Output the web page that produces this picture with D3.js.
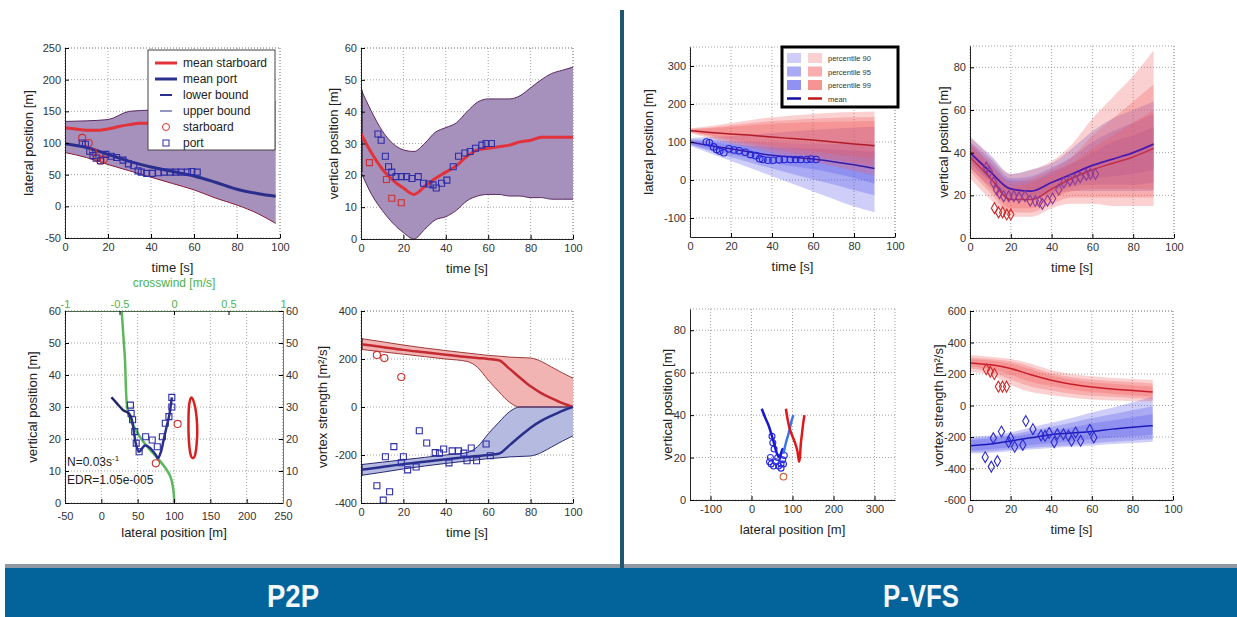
<!DOCTYPE html>
<html>
<head>
<meta charset="utf-8">
<script src="https://cdn.jsdelivr.net/npm/d3@7"></script>
<style>
  body { margin: 0; background: #fff; }
  svg text { font-family: "Liberation Sans", Arial, sans-serif; }
</style>
</head>
<body>
<script>
// ---------- P2P lateral position vs time
const p2pLatT = [0, 10, 20, 30, 40, 50, 60, 70, 80, 90, 98];
const p2pLatUpper = [134, 135, 137, 150, 152, 154, 156, 158, 160, 162, 165];
const p2pLatLower = [85, 77, 66, 56, 46, 36, 26, 13, 2, -12, -27];
const p2pLatPortMean = [99, 93, 82, 71, 62, 55, 48, 38, 27, 20, 16];
const p2pLatStarT = [0, 5, 10, 15, 20, 25, 30, 35, 40, 45, 50];
const p2pLatStarMean = [124, 122, 120, 120, 122, 126, 129, 131, 131, 130, 129];

// ---------- P2P vertical position vs time
const p2pVertT = [0, 5, 10, 15, 20, 25, 30, 35, 40, 45, 50, 55, 60, 65, 70, 75, 80, 85, 90, 95, 100];
const p2pVertUpper = [47, 40, 34, 30, 28, 27.5, 30, 33.5, 35, 36.5, 40, 43, 44, 44, 44, 45, 47.5, 50, 52, 53, 54];
const p2pVertLower = [21, 14, 9, 5, 2, 0, 3, 6, 7, 9, 12, 13.5, 14, 14, 13.5, 13.5, 13, 13, 12.5, 12.5, 12.5];
const p2pVertMean = [33, 27, 22, 18.5, 16, 14, 16.5, 19, 21, 23, 26, 28, 28.5, 29, 29.5, 30.5, 31, 32, 32, 32, 32];

// ---------- P2P vortex strength vs time
const p2pGamT = [0, 10, 20, 30, 40, 50, 55, 60, 65, 70, 75, 80, 85, 90, 95, 100];
const p2pGamStarUpper = [285, 272, 258, 246, 235, 225, 220, 215, 212, 208, 206, 204, 190, 166, 142, 120];
const p2pGamStarLower = [240, 230, 220, 210, 200, 190, 165, 112, 64, 20, 0, 0, 0, 0, 0, 0];
const p2pGamStarMean = [262, 250, 238, 228, 218, 208, 204, 200, 195, 160, 122, 86, 58, 36, 16, 0];
const p2pGamPortUpper = [-240, -230, -220, -210, -200, -190, -165, -112, -64, -20, 0, 0, 0, 0, 0, 0];
const p2pGamPortLower = [-285, -272, -258, -246, -235, -225, -220, -215, -212, -208, -206, -204, -190, -166, -142, -120];
const p2pGamPortMean = [-262, -250, -238, -228, -218, -208, -204, -200, -195, -160, -122, -86, -58, -36, -16, 0];

// ---------- observations
const portT = [8, 9.5, 11.5, 13, 14.5, 16.5, 19, 21.5, 24, 27, 29.5, 32, 34, 35.5, 38, 40.5, 43.5, 46, 49, 51.5, 54, 57, 59, 61.5];
const portLat = [100, 98, 87, 80, 76, 72, 82, 79, 77, 73, 67, 64, 56, 54, 52, 52, 53, 54, 54, 54, 54, 54, 55, 54];
const portVert = [33, 31, 26, 22.7, 21, 19.6, 19.6, 19.6, 19, 19.6, 17.5, 17.3, 17, 16, 17.5, 18.5, 22.7, 26, 27, 27.5, 28.5, 29.5, 30, 30];
const starLatT = [8, 11, 13, 15, 16.5, 18];
const starLat = [108, 100, 86, 77, 72, 74];
const starVertT = [4, 12, 14.5, 19];
const starVert = [24, 18.7, 12.8, 11.4];
const portGamT = [7.5, 10.5, 11.5, 13.5, 15.5, 19, 20, 22, 26, 27.5, 31, 35, 37, 39, 41.5, 43, 46, 48.5, 50, 52, 54.5, 59, 61];
const portGam = [-328, -388, -207, -353, -165, -232, -207, -262, -250, -99, -150, -190, -192, -175, -233, -183, -183, -192, -224, -171, -224, -154, -203];
const starGamT = [7.5, 11, 19];
const starGam = [217, 204, 125];

// ---------- P2P trajectory (lateral vs vertical) + crosswind
const windHeight = [60, 55, 50, 45, 40, 35, 30, 27, 24, 20, 17, 14, 11, 8, 5, 2, 0];
const windSpeed = [-0.48, -0.47, -0.46, -0.45, -0.445, -0.44, -0.43, -0.41, -0.37, -0.3, -0.23, -0.15, -0.08, -0.03, -0.01, 0, 0];
const trajPortLat = [14, 22, 30, 38, 42, 45, 48, 52, 60, 68, 75, 78, 82, 86, 90, 94, 97];
const trajPortVert = [33, 31, 29, 28, 26, 22, 18, 16, 18, 17, 15, 14, 16, 20, 24, 28, 33];
const trajObsLat = [40, 41, 43, 46, 48, 52, 61, 70, 77, 84, 88, 93, 97, 97];
const trajObsVert = [30.6, 28, 26, 22.3, 18.7, 16, 20.7, 19.7, 17.6, 20.7, 24.9, 27, 30, 33];
const trajStarObsLat = [75, 105];
const trajStarObsVert = [12.4, 24.7];
const trajStarLat = [124, 128, 131, 132, 131, 129, 126, 123, 121, 120, 120, 121];
const trajStarVert = [33, 31, 27, 22, 18, 15, 14, 15, 18, 22, 27, 31];

// ---------- P-VFS bands (t = 0..90), pairs are [low, high]
const vfsT = [0, 10, 20, 30, 40, 50, 60, 70, 80, 90];
const vfsLatStarMean = [130, 125, 121, 118, 113, 109, 105, 100, 95, 90];
const vfsLatStarOuter = [[124, 136], [110, 142], [96, 150], [84, 158], [72, 165], [60, 170], [48, 174], [36, 177], [24, 179], [12, 180]];
const vfsLatStarMid = [[126, 134], [114, 138], [102, 144], [92, 150], [82, 155], [72, 158], [63, 161], [54, 163], [45, 165], [36, 166]];
const vfsLatStarInner = [[127, 133], [117, 136], [107, 140], [98, 144], [90, 148], [82, 150], [75, 152], [68, 153], [62, 154], [56, 155]];
const vfsLatPortMean = [100, 90, 82, 73, 65, 60, 55, 48, 40, 30];
const vfsLatPortOuter = [[90, 110], [70, 114], [50, 116], [30, 120], [10, 124], [-10, 128], [-30, 132], [-50, 135], [-70, 138], [-85, 140]];
const vfsLatPortMid = [[93, 107], [76, 105], [60, 102], [45, 100], [30, 98], [16, 97], [2, 96], [-12, 95], [-27, 95], [-40, 95]];
const vfsLatPortInner = [[95, 105], [80, 100], [68, 95], [56, 90], [45, 86], [36, 84], [28, 82], [18, 80], [5, 77], [-10, 75]];

const vfsVertStarMean = [38, 28, 18, 18, 23, 28, 32, 35, 38, 42];
const vfsVertStarOuter = [[28, 48], [18, 38], [10, 30], [10, 32], [14, 36], [16, 44], [16, 56], [15, 66], [15, 76], [15, 88]];
const vfsVertStarMid = [[31, 45], [21, 35], [12, 26], [12, 28], [16, 32], [19, 38], [19, 48], [19, 56], [19, 64], [19, 72]];
const vfsVertStarInner = [[33, 43], [23, 33], [14, 24], [14, 26], [18, 30], [22, 35], [23, 42], [23, 48], [23, 54], [23, 60]];
const vfsVertPortMean = [40, 31, 23, 22, 26, 30, 34, 37, 40, 44];
const vfsVertPortOuter = [[33, 47], [24, 39], [18, 30], [18, 32], [20, 35], [22, 42], [22, 50], [22, 56], [22, 60], [22, 64]];
const vfsVertPortMid = [[35, 45], [26, 37], [19, 28], [19, 29], [21, 33], [24, 38], [25, 45], [25, 50], [25, 54], [26, 58]];
const vfsVertPortInner = [[36, 44], [27, 35], [20, 27], [20, 27], [22, 31], [26, 35], [28, 40], [29, 45], [30, 48], [32, 52]];

const vfsGamStarMean = [270, 258, 235, 195, 160, 135, 118, 105, 95, 85];
const vfsGamStarOuter = [[215, 320], [195, 310], [130, 295], [85, 265], [65, 225], [50, 200], [38, 185], [32, 175], [28, 168], [25, 162]];
const vfsGamStarMid = [[235, 305], [215, 295], [165, 280], [120, 245], [95, 205], [75, 180], [62, 165], [55, 155], [48, 148], [40, 140]];
const vfsGamStarInner = [[245, 295], [232, 285], [195, 265], [150, 230], [125, 190], [100, 165], [85, 148], [75, 138], [65, 128], [55, 120]];
const vfsGamPortMean = [-255, -245, -225, -205, -185, -175, -165, -150, -138, -128];
const vfsGamPortOuter = [[-305, -198], [-300, -190], [-290, -170], [-280, -140], [-270, -110], [-262, -80], [-255, -45], [-245, -15], [-238, 20], [-230, 55]];
const vfsGamPortMid = [[-295, -210], [-290, -200], [-280, -185], [-268, -160], [-258, -135], [-250, -110], [-240, -80], [-230, -55], [-222, -30], [-215, -5]];
const vfsGamPortInner = [[-285, -220], [-278, -210], [-265, -198], [-250, -178], [-238, -160], [-228, -140], [-215, -115], [-205, -95], [-195, -75], [-185, -55]];

const vfsStarVertT = [12, 14, 16, 18, 20];
const vfsStarVert = [14, 12, 12, 11, 11];
const vfsStarGamT = [8, 10, 12, 14, 16, 18];
const vfsStarGam = [230, 215, 200, 120, 120, 120];

// ---------- P-VFS trajectory
const vfsTrajPortLat = [25, 33, 42, 50, 56, 60, 64, 68, 72, 76, 80];
const vfsTrajPortVert = [43, 39, 35, 30, 26, 23, 21, 20, 22, 24, 22];
const vfsTrajObsLat = [50, 52, 55, 46, 48, 54, 60, 64, 72, 76, 80, 78, 72, 66, 44];
const vfsTrajObsVert = [30, 27, 24, 20, 17, 16, 18, 20, 17, 19, 21, 17, 15, 16, 18];
const vfsTrajPort2Lat = [78, 84, 90, 96, 102];
const vfsTrajPort2Vert = [22, 27, 31, 36, 40];
const vfsTrajStarLat = [84, 88, 94, 100, 106, 112, 116, 118, 120, 123, 126, 129];
const vfsTrajStarVert = [43, 38, 33, 30, 27, 23, 18, 20, 26, 31, 36, 40];

// ---------- labels
const legendP2P = ["mean starboard", "mean port", "lower bound", "upper bound", "starboard", "port"];
const legendVFS = ["percentile 90", "percentile 95", "percentile 99", "mean"];
const timeTicks = [0, 20, 40, 60, 80, 100];

const svg = d3.select("body").append("svg").attr("width", 1237).attr("height", 617);
const defs = svg.append("defs");
let clipN = 0;
const fmt = d => String(d);
const zip = (a, b) => a.map((v, i) => [v, b[i]]);

function makeAxes(b, xDom, yDom, xTicks, yTicks, xLabel, yLabel, yLabX, xPad) {
  const x = d3.scaleLinear().domain(xDom).range([b.x, b.x + b.w]);
  const y = d3.scaleLinear().domain(yDom).range([b.y + b.h, b.y]);
  const g = svg.append("g");
  const grid = g.append("g").attr("stroke", "#8c8c8c").attr("stroke-width", 0.8).attr("stroke-dasharray", "1,2");
  grid.selectAll(null).data(xTicks.concat([xDom[1]])).enter().append("line")
    .attr("x1", d => x(d)).attr("x2", d => x(d)).attr("y1", b.y).attr("y2", b.y + b.h);
  grid.selectAll(null).data(yTicks.concat([yDom[1]])).enter().append("line")
    .attr("y1", d => y(d)).attr("y2", d => y(d)).attr("x1", b.x).attr("x2", b.x + b.w);
  const id = "clip" + (clipN++);
  defs.append("clipPath").attr("id", id).append("rect")
    .attr("x", b.x).attr("y", b.y).attr("width", b.w).attr("height", b.h);
  const plot = g.append("g").attr("clip-path", `url(#${id})`);
  const top = g.append("g");
  top.append("g").attr("transform", `translate(0,${b.y + b.h})`)
    .call(d3.axisBottom(x).tickValues(xTicks).tickFormat(fmt).tickSizeInner(-4).tickSizeOuter(0).tickPadding(xPad || 5));
  top.append("g").attr("transform", `translate(${b.x},0)`)
    .call(d3.axisLeft(y).tickValues(yTicks).tickFormat(fmt).tickSizeInner(-4).tickSizeOuter(0).tickPadding(4));
  top.selectAll(".tick text").attr("font-size", 11).attr("fill", "#333").attr("font-family", "Liberation Sans, Arial, sans-serif");
  top.selectAll(".domain").attr("stroke", "#222");
  top.append("text").attr("x", b.x + b.w / 2).attr("y", b.y + b.h + 34)
    .attr("text-anchor", "middle").attr("font-size", 13).attr("fill", "#222").text(xLabel);
  top.append("text").attr("transform", `translate(${yLabX + 5},${b.y + b.h / 2}) rotate(-90)`)
    .attr("text-anchor", "middle").attr("font-size", 13).attr("fill", "#222").text(yLabel);
  return { x, y, plot, top, b };
}

function drawLine(ax, pts, color, width, curve) {
  ax.plot.append("path").datum(pts).attr("fill", "none").attr("stroke", color).attr("stroke-width", width)
    .attr("stroke-linejoin", "round")
    .attr("d", d3.line().x(d => ax.x(d[0])).y(d => ax.y(d[1])).curve(curve || d3.curveMonotoneX));
}
function drawBand(ax, xs, pairs, color, opacity) {
  ax.plot.append("path").datum(xs.map((v, i) => [v, pairs[i][0], pairs[i][1]]))
    .attr("fill", color).attr("fill-opacity", opacity)
    .attr("d", d3.area().x(d => ax.x(d[0])).y0(d => ax.y(d[1])).y1(d => ax.y(d[2])).curve(d3.curveMonotoneX));
}
function drawMarks(ax, pts, shape, color, size) {
  ax.plot.selectAll(null).data(pts).enter().append("path")
    .attr("transform", d => `translate(${ax.x(d[0])},${ax.y(d[1])})`)
    .attr("d", d3.symbol().type(shape).size(size))
    .attr("fill", "none").attr("stroke", color).attr("stroke-width", 1.1);
}

const purple = "#a690bc", red = "#e2323a", navy = "#2b2f8c", sqBlue = "#2d2da8";

// ================= P2P panel 1: lateral position
const p1 = makeAxes({ x: 65, y: 48, w: 215, h: 190 }, [0, 100], [-50, 250], timeTicks,
  [-50, 0, 50, 100, 150, 200, 250], "time [s]", "lateral position [m]", 28);
drawBand(p1, p2pLatT, zip(p2pLatLower, p2pLatUpper), purple, 1);
drawLine(p1, zip(p2pLatT, p2pLatUpper), "#5a2a60", 1);
drawLine(p1, zip(p2pLatT, p2pLatLower), "#8a1a3a", 1);
drawLine(p1, zip(p2pLatStarT, p2pLatStarMean), red, 3);
drawLine(p1, zip(p2pLatT, p2pLatPortMean), navy, 3);
drawMarks(p1, zip(starLatT, starLat), d3.symbolCircle, "#d03030", 40);
drawMarks(p1, zip(portT, portLat), d3.symbolSquare, sqBlue, 36);
{
  const lg = p1.top.append("g").attr("transform", "translate(148,50)");
  lg.append("rect").attr("width", 127).attr("height", 100).attr("fill", "white").attr("stroke", "#444");
  const rows = lg.selectAll(null).data(legendP2P).enter().append("g")
    .attr("transform", (d, i) => `translate(0,${13 + i * 16})`);
  rows.append("text").attr("x", 35).attr("y", 4).attr("font-size", 12).attr("fill", "#222").text(d => d);
  rows.each(function (d, i) {
    const r = d3.select(this);
    if (i === 0) r.append("line").attr("x1", 7).attr("x2", 29).attr("stroke", red).attr("stroke-width", 3);
    if (i === 1) r.append("line").attr("x1", 7).attr("x2", 29).attr("stroke", navy).attr("stroke-width", 3);
    if (i === 2) r.append("line").attr("x1", 12).attr("x2", 24).attr("stroke", navy).attr("stroke-width", 2);
    if (i === 3) r.append("line").attr("x1", 12).attr("x2", 24).attr("stroke", navy).attr("stroke-width", 1);
    if (i === 4) r.append("circle").attr("cx", 18).attr("r", 3.5).attr("fill", "none").attr("stroke", "#d03030");
    if (i === 5) r.append("rect").attr("x", 15).attr("y", -3).attr("width", 6).attr("height", 6).attr("fill", "none").attr("stroke", sqBlue);
  });
}

// ================= P2P panel 2: vertical position
const p2 = makeAxes({ x: 361, y: 48, w: 212, h: 191 }, [0, 100], [0, 60], timeTicks,
  [0, 10, 20, 30, 40, 50, 60], "time [s]", "vertical position [m]", 333);
drawBand(p2, p2pVertT, zip(p2pVertLower, p2pVertUpper), purple, 1);
drawLine(p2, zip(p2pVertT, p2pVertUpper), "#5a2a60", 1);
drawLine(p2, zip(p2pVertT, p2pVertLower), "#5a2a60", 1);
drawLine(p2, [[0, p2pVertLower[0]], [0, p2pVertUpper[0]]], "#000", 3, d3.curveLinear);
drawLine(p2, zip(p2pVertT, p2pVertMean), red, 3);
drawMarks(p2, zip(starVertT, starVert), d3.symbolSquare, "#d03030", 36);
drawMarks(p2, zip(portT, portVert), d3.symbolSquare, sqBlue, 36);

// ================= P2P panel 3: trajectory + crosswind
const p3 = makeAxes({ x: 65, y: 311, w: 218, h: 192 }, [-50, 250], [0, 60], [-50, 0, 50, 100, 150, 200, 250],
  [0, 10, 20, 30, 40, 50, 60], "lateral position [m]", "vertical position  [m]", 32, 9);
{
  const b = p3.b;
  const cw = d3.scaleLinear().domain([-1, 1]).range([b.x, b.x + b.w]);
  const ta = p3.top.append("g").attr("transform", `translate(0,${b.y})`)
    .call(d3.axisTop(cw).tickValues([-1, -0.5, 0, 0.5, 1]).tickFormat(fmt).tickSizeInner(-4).tickSizeOuter(0).tickPadding(3));
  ta.selectAll("text").attr("font-size", 11).attr("fill", "#4cb34c").attr("font-family", "Liberation Sans, Arial, sans-serif");
  ta.select(".domain").attr("stroke", "#4a6a4a");
  const ra = p3.top.append("g").attr("transform", `translate(${b.x + b.w},0)`)
    .call(d3.axisRight(p3.y).tickValues([0, 10, 20, 30, 40, 50, 60]).tickFormat(fmt).tickSizeInner(-4).tickSizeOuter(0).tickPadding(3));
  ra.selectAll("text").attr("font-size", 11).attr("fill", "#333").attr("font-family", "Liberation Sans, Arial, sans-serif");
  ra.select(".domain").attr("stroke", "#777");
  p3.top.append("text").attr("x", cw(0)).attr("y", b.y - 24).attr("text-anchor", "middle")
    .attr("font-size", 12).attr("fill", "#4cb34c").text("crosswind [m/s]");
  p3.plot.append("path").datum(zip(windSpeed, windHeight)).attr("fill", "none").attr("stroke", "#5cb85c").attr("stroke-width", 2.5)
    .attr("d", d3.line().x(d => cw(d[0])).y(d => p3.y(d[1])).curve(d3.curveCatmullRom));
  drawLine(p3, zip(trajStarLat, trajStarVert), "#d82020", 2.5, d3.curveCardinalClosed);
  drawMarks(p3, zip(trajObsLat, trajObsVert), d3.symbolSquare, sqBlue, 36);
  drawLine(p3, zip(trajPortLat, trajPortVert), navy, 2.5, d3.curveCatmullRom);
  drawLine(p3, zip(trajPortLat.slice(0, 5), trajPortVert.slice(0, 5)), "#222", 1, d3.curveCatmullRom);
  drawMarks(p3, zip(trajStarObsLat, trajStarObsVert), d3.symbolCircle, "#d03030", 40);
  const t1 = p3.top.append("text").attr("x", b.x + 2).attr("y", 466).attr("font-size", 12).attr("fill", "#222").text("N=0.03s");
  t1.append("tspan").attr("dy", -5).attr("font-size", 8).text("-1");
  p3.top.append("text").attr("x", b.x + 2).attr("y", 484).attr("font-size", 12).attr("fill", "#222").text("EDR=1.05e-005");
}

// ================= P2P panel 4: vortex strength
const p4 = makeAxes({ x: 361, y: 311, w: 212, h: 192 }, [0, 100], [-400, 400], timeTicks,
  [-400, -200, 0, 200, 400], "time [s]", "vortex strength [m²/s]", 322);
drawBand(p4, p2pGamT, zip(p2pGamStarLower, p2pGamStarUpper), "#f2b3b3", 1);
drawBand(p4, p2pGamT, zip(p2pGamPortLower, p2pGamPortUpper), "#b4bae0", 1);
drawLine(p4, zip(p2pGamT, p2pGamStarUpper), "#a03a3a", 1);
drawLine(p4, zip(p2pGamT, p2pGamStarLower), "#a03a3a", 1);
drawLine(p4, zip(p2pGamT, p2pGamPortUpper), "#2a2a70", 1);
drawLine(p4, zip(p2pGamT, p2pGamPortLower), "#2a2a70", 1);
drawLine(p4, [[0, p2pGamStarLower[0]], [0, p2pGamStarUpper[0]]], "#000", 3, d3.curveLinear);
drawLine(p4, [[0, p2pGamPortLower[0]], [0, p2pGamPortUpper[0]]], "#000", 3, d3.curveLinear);
drawLine(p4, zip(p2pGamT, p2pGamStarMean), "#c42a32", 2.5);
drawLine(p4, zip(p2pGamT, p2pGamPortMean), navy, 2.5);
drawMarks(p4, zip(starGamT, starGam), d3.symbolCircle, "#d03030", 40);
drawMarks(p4, zip(portGamT, portGam), d3.symbolSquare, sqBlue, 36);

// ================= P-VFS
const vBlue = "rgb(80,80,235)", vRed = "rgb(240,85,85)", bandOp = 0.28;
function vfsBands(ax, portBands, starBands) {
  portBands.forEach(p => drawBand(ax, vfsT, p, vBlue, bandOp));
  starBands.forEach(p => drawBand(ax, vfsT, p, vRed, bandOp));
}

const p5 = makeAxes({ x: 690, y: 47, w: 205, h: 190 }, [0, 100], [-150, 350], timeTicks,
  [-100, 0, 100, 200, 300], "time [s]", "lateral position [m]", 648);
vfsBands(p5, [vfsLatPortOuter, vfsLatPortMid, vfsLatPortInner], [vfsLatStarOuter, vfsLatStarMid, vfsLatStarInner]);
drawLine(p5, zip(vfsT, vfsLatStarMean), "#b01c2a", 1.5);
drawLine(p5, zip(vfsT, vfsLatPortMean), "#3a1aa0", 1.5);
drawMarks(p5, zip(portT, portLat), d3.symbolCircle, "#2424d8", 34);
{
  const lg = p5.top.append("g").attr("transform", "translate(782,47)");
  lg.append("rect").attr("width", 116).attr("height", 60).attr("fill", "white").attr("stroke", "#000").attr("stroke-width", 3);
  const ops = [0.28, 0.48, 0.63];
  const rows = lg.selectAll(null).data(legendVFS).enter().append("g")
    .attr("transform", (d, i) => `translate(0,${11 + i * 13.5})`);
  rows.append("text").attr("x", 46).attr("y", 3).attr("font-size", 7.5).attr("fill", "#333").text(d => d);
  rows.each(function (d, i) {
    const r = d3.select(this);
    if (i < 3) {
      r.append("rect").attr("x", 5).attr("y", -5).attr("width", 14).attr("height", 10).attr("fill", vBlue).attr("fill-opacity", ops[i]);
      r.append("rect").attr("x", 26).attr("y", -5).attr("width", 14).attr("height", 10).attr("fill", vRed).attr("fill-opacity", ops[i]);
    } else {
      r.append("line").attr("x1", 5).attr("x2", 19).attr("stroke", "#1010a0").attr("stroke-width", 2.5);
      r.append("line").attr("x1", 26).attr("x2", 40).attr("stroke", "#c01818").attr("stroke-width", 2.5);
    }
  });
}

const p6 = makeAxes({ x: 970, y: 46, w: 204, h: 192 }, [0, 100], [0, 90], timeTicks,
  [0, 20, 40, 60, 80], "time [s]", "vertical position [m]", 943);
vfsBands(p6, [vfsVertPortOuter, vfsVertPortMid, vfsVertPortInner], [vfsVertStarOuter, vfsVertStarMid, vfsVertStarInner]);
drawLine(p6, zip(vfsT, vfsVertStarMean), "#c0304a", 1.5);
drawLine(p6, zip(vfsT, vfsVertPortMean), "#4a1ab0", 1.8);
drawMarks(p6, zip(vfsStarVertT, vfsStarVert), d3.symbolDiamond, "#d02a2a", 34);
drawMarks(p6, zip(portT, portVert), d3.symbolDiamond, "#8a3a9a", 34);

const p7 = makeAxes({ x: 690, y: 309, w: 205, h: 191 }, [-150, 350], [0, 90], [-100, 0, 100, 200, 300],
  [0, 20, 40, 60, 80], "lateral position [m]", "vertical position [m]", 667);
drawMarks(p7, zip(vfsTrajObsLat, vfsTrajObsVert), d3.symbolCircle, "#2a2ae0", 28);
drawLine(p7, zip(vfsTrajPortLat, vfsTrajPortVert), "#1818d0", 2.5, d3.curveCatmullRom);
drawLine(p7, zip(vfsTrajPort2Lat, vfsTrajPort2Vert), "#3a78e8", 2.5, d3.curveCatmullRom);
drawLine(p7, zip(vfsTrajStarLat, vfsTrajStarVert), "#e01818", 2.5, d3.curveCatmullRom);
drawMarks(p7, [[78, 11]], d3.symbolCircle, "#d06030", 34);

const p8 = makeAxes({ x: 970, y: 311, w: 203, h: 189 }, [0, 100], [-600, 600], timeTicks,
  [-600, -400, -200, 0, 200, 400, 600], "time [s]", "vortex strength [m²/s]", 938);
vfsBands(p8, [vfsGamPortOuter, vfsGamPortMid, vfsGamPortInner], [vfsGamStarOuter, vfsGamStarMid, vfsGamStarInner]);
drawLine(p8, zip(vfsT, vfsGamStarMean), "#c81e2a", 1.5);
drawLine(p8, zip(vfsT, vfsGamPortMean), "#1a1ab8", 1.5);
drawMarks(p8, zip(vfsStarGamT, vfsStarGam), d3.symbolDiamond, "#d02a2a", 34);
drawMarks(p8, zip(portGamT, portGam), d3.symbolDiamond, "#2a2ad0", 34);

// ================= frame, divider and banner
svg.append("rect").attr("x", 5).attr("y", 564).attr("width", 1232).attr("height", 4).attr("fill", "#8e99a4");
svg.append("rect").attr("x", 620).attr("y", 10).attr("width", 4).attr("height", 560).attr("fill", "#1f5670");
svg.append("rect").attr("x", 5).attr("y", 568).attr("width", 1232).attr("height", 49).attr("fill", "#03649b");
svg.selectAll(null).data([["P2P", 293, 52], ["P-VFS", 921, 76]]).enter().append("text")
  .attr("x", d => d[1]).attr("y", 607).attr("text-anchor", "middle")
  .attr("textLength", d => d[2]).attr("lengthAdjust", "spacingAndGlyphs")
  .attr("font-size", 31).attr("font-weight", "bold").attr("fill", "#f4f8fb")
  .text(d => d[0]);
</script>
</body>
</html>
